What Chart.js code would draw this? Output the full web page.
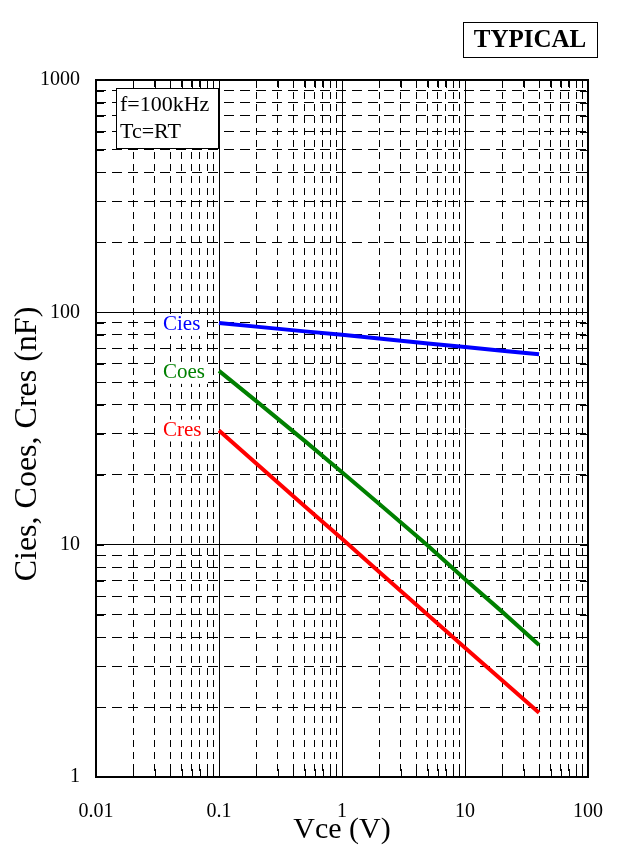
<!DOCTYPE html>
<html>
<head>
<meta charset="utf-8">
<script src="https://cdn.jsdelivr.net/npm/chart.js@4"></script>
<style>
  body { margin: 0; background: #fff; }
  canvas { display: block; }
</style>
</head>
<body>
<canvas id="capChart" width="619" height="854"></canvas>
<script>
// values
const vce = [0.1, 0.2, 0.5, 1, 2, 5, 10, 20, 40];
const cies = [90, 86.8, 82.8, 80, 77.1, 73.5, 71, 68.4, 66];
const coes = [56, 41.6, 27.9, 20.5, 15.0, 9.9, 7.1, 5.15, 3.7];
const cres = [31, 22.4, 14.6, 10.6, 7.65, 4.98, 3.6, 2.61, 1.89];

const xDecades = [0.01, 0.1, 1, 10, 100];
const xDecadeLabels = ["0.01", "0.1", "1", "10", "100"];
const yDecades = [1, 10, 100, 1000];
const yDecadeLabels = ["1", "10", "100", "1000"];
const minorSteps = [2, 3, 4, 5, 6, 7, 8, 9];

function tickValues(decades) {
  let vals = [];
  decades.forEach((d, i) => {
    vals.push(d);
    if (i < decades.length - 1) minorSteps.forEach(m => vals.push(d * m));
  });
  return vals;
}
const xTicks = tickValues(xDecades);
const yTicks = tickValues(yDecades);

const serif = "'Liberation Serif', 'Times New Roman', serif";
Chart.defaults.font.family = serif;
Chart.defaults.color = "#000";

function pts(ys) {
  return vce.map((v, i) => ({x: v, y: ys[i]}));
}

const decor = {
  id: "decor",
  afterDraw(chart) {
    const ctx = chart.ctx;
    const a = chart.chartArea;
    const x = chart.scales.x;
    const y = chart.scales.y;
    ctx.save();

    // small inner ticks on all four sides
    ctx.strokeStyle = "#000";
    ctx.lineWidth = 1;
    ctx.beginPath();
    xTicks.forEach(v => {
      const px = Math.round(x.getPixelForValue(v)) + 0.5;
      ctx.moveTo(px, a.top); ctx.lineTo(px, a.top + 8);
      ctx.moveTo(px, a.bottom); ctx.lineTo(px, a.bottom - 8);
    });
    yTicks.forEach(v => {
      const py = Math.round(y.getPixelForValue(v)) + 0.5;
      ctx.moveTo(a.left, py); ctx.lineTo(a.left + 8, py);
      ctx.moveTo(a.right, py); ctx.lineTo(a.right - 8, py);
    });
    ctx.stroke();

    // frame
    ctx.lineWidth = 2;
    ctx.strokeRect(a.left, a.top, a.right - a.left, a.bottom - a.top);

    // curve labels
    ctx.font = "21px " + serif;
    ctx.textBaseline = "middle";
    ctx.textAlign = "left";
    const labels = [["Cies", cies[0], "#0000ff", 2], ["Coes", coes[0], "#008000", 2], ["Cres", cres[0], "#ff0000", 0]];
    labels.forEach(l => {
      const w = ctx.measureText(l[0]).width;
      const lx = x.getPixelForValue(vce[0]) - 56;
      const ly = y.getPixelForValue(l[1]) + l[3];
      ctx.fillStyle = "#fff";
      ctx.fillRect(lx - 3, ly - 11, w + 6, 22);
      ctx.fillStyle = l[2];
      ctx.fillText(l[0], lx, ly);
    });

    // condition box
    ctx.fillStyle = "#fff";
    ctx.fillRect(116, 88, 102, 60);
    ctx.lineWidth = 1;
    ctx.strokeRect(116.5, 88.5, 102, 60);
    ctx.fillStyle = "#000";
    ctx.font = "22px " + serif;
    ctx.fillText("f=100kHz", 120, 105);
    ctx.fillText("Tc=RT", 120, 132);

    // TYPICAL box
    ctx.fillStyle = "#fff";
    ctx.fillRect(463, 22, 134, 35);
    ctx.strokeRect(463.5, 22.5, 134, 35);
    ctx.fillStyle = "#000";
    ctx.font = "bold 25px " + serif;
    ctx.textAlign = "center";
    ctx.fillText("TYPICAL", 530, 41);

    // axis titles
    ctx.font = "30px " + serif;
    ctx.fillText("Vce (V)", (a.left + a.right) / 2, 830);
    ctx.translate(28, 444);
    ctx.rotate(-Math.PI / 2);
    ctx.font = "32px " + serif;
    ctx.fillText("Cies, Coes, Cres (nF)", 0, 0);

    ctx.restore();
  }
};

function gridColor(ctx) { return "#000"; }

new Chart(document.getElementById("capChart"), {
  type: "scatter",
  data: {
    datasets: [
      {label: "Cies", data: pts(cies), borderColor: "#0000ff"},
      {label: "Coes", data: pts(coes), borderColor: "#008000"},
      {label: "Cres", data: pts(cres), borderColor: "#ff0000"}
    ].map(d => Object.assign(d, {showLine: true, borderWidth: 4, pointRadius: 0, tension: 0}))
  },
  options: {
    responsive: false,
    animation: false,
    layout: {padding: {left: 0, right: 31, top: 80, bottom: 0}},
    plugins: {legend: {display: false}, tooltip: {enabled: false}},
    scales: {
      x: {
        type: "logarithmic",
        min: 0.01,
        max: 100,
        afterBuildTicks: s => { s.ticks = xTicks.map(v => ({value: v})); },
        afterFit: s => { s.height = 77; s.paddingLeft = 0; s.paddingRight = 0; },
        ticks: {
          autoSkip: false, maxRotation: 0, minRotation: 0, padding: 23,
          font: {size: 20},
          callback: v => { const i = xDecades.indexOf(v); return i >= 0 ? xDecadeLabels[i] : ""; }
        },
        grid: {drawTicks: false, color: gridColor, lineWidth: 1},
        border: {display: false, dash: c => (c.tick && !xDecades.includes(c.tick.value)) ? [7, 5] : []}
      },
      y: {
        type: "logarithmic",
        min: 1,
        max: 1000,
        afterBuildTicks: s => { s.ticks = yTicks.map(v => ({value: v})); },
        afterFit: s => { s.width = 96; },
        ticks: {
          autoSkip: false, padding: 16,
          font: {size: 20},
          callback: v => { const i = yDecades.indexOf(v); return i >= 0 ? yDecadeLabels[i] : ""; }
        },
        grid: {drawTicks: false, color: gridColor, lineWidth: 1},
        border: {display: false, dash: c => (c.tick && !yDecades.includes(c.tick.value)) ? [10, 6] : []}
      }
    }
  },
  plugins: [decor]
});
</script>
</body>
</html>
